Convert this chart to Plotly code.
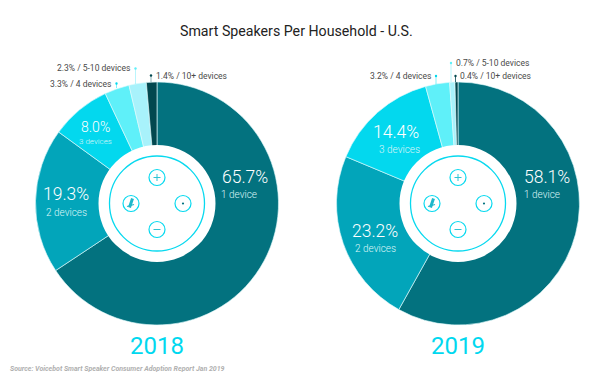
import plotly.graph_objects as go

W, H = 600, 381
categories = ["1 device", "2 devices", "3 devices", "4 devices", "5-10 devices", "10+ devices"]
values_2018 = [65.7, 19.3, 8.0, 3.3, 2.3, 1.4]
values_2019 = [58.1, 23.2, 14.4, 3.2, 0.7, 0.4]
colors = ["#03727f", "#02a5ba", "#03d8ee", "#5ff0f9", "#a8f2fb", "#02484f"]
title = "Smart Speakers Per Household - U.S."
source = "Source: Voicebot Smart Speaker Consumer Adoption Report Jan 2019"
FONT = "Roboto"
TEAL = "#07d9ef"
GREY = "#4a4a4a"
R = 121.5
CY = 203.5
centers = [(157, values_2018, "2018"), (458, values_2019, "2019")]

def px(x): return x / W
def py(y): return 1 - y / H

fig = go.Figure()
for cx, vals, yr in centers:
    fig.add_trace(go.Pie(
        labels=categories, values=vals, sort=False, direction="clockwise", rotation=0,
        hole=0.0, textinfo="none", hoverinfo="label+percent", showlegend=False,
        marker=dict(colors=colors, line=dict(color="rgba(225,250,252,0.9)", width=0.7)),
        domain=dict(x=[px(cx - R), px(cx + R)], y=[py(CY + R), py(CY - R)]),
    ))

shapes = []
def circle(cx, cy, r, fill="white", line=TEAL, width=1.2):
    shapes.append(dict(type="circle", xref="paper", yref="paper",
                       x0=px(cx - r), x1=px(cx + r), y0=py(cy + r), y1=py(cy - r),
                       fillcolor=fill, line=dict(color=line, width=width), layer="above"))
def seg(x0, y0, x1, y1, color=TEAL, width=1.0):
    shapes.append(dict(type="line", xref="paper", yref="paper",
                       x0=px(x0), x1=px(x1), y0=py(y0), y1=py(y1),
                       line=dict(color=color, width=width), layer="above"))
def dot(x, y, color, r=1.2):
    circle(x, y, r, fill=color, line=color, width=0)

for cx, _, _ in centers:
    circle(cx, CY, 58.5, line="white", width=0)
    circle(cx, CY, 47.5, width=1.3)
    circle(cx, CY - 26, 8)
    seg(cx - 3.5, CY - 26, cx + 3.5, CY - 26, "#2fc4d4"); seg(cx, CY - 29.5, cx, CY - 22.5, "#2fc4d4")
    circle(cx, CY + 26, 8)
    seg(cx - 3.5, CY + 26, cx + 3.5, CY + 26, "#2fc4d4")
    circle(cx + 26, CY, 8)
    dot(cx + 26, CY, "#03727f", 1.1)
    circle(cx - 26, CY, 8)
    seg(cx - 24.5, CY - 5, cx - 27.5, CY + 4, "#1fb8cb", 3)
    seg(cx - 30, CY + 3, cx - 23, CY + 1, "#1fb8cb", 1.2)

# leader lines for the small slices
seg(116.5, 88, 116.5, 84, "#5ff0f9", 0.8); dot(116.5, 83.5, "#03d8ee")
seg(135.5, 84, 135.5, 69, "#a8f2fb", 0.8); dot(135.5, 68.5, "#5ff0f9")
seg(151, 82, 151, 76, "#6e9ea3", 0.8); dot(151, 75.5, "#02484f")
seg(436, 86, 436, 76, "#5ff0f9", 0.8); dot(436, 76, "#03d8ee")
seg(451, 82, 451, 63, "#a8f2fb", 0.8); dot(451, 63, "#5ff0f9")
seg(455.5, 82, 455.5, 76, "#02484f", 0.8); dot(455.5, 76, "#02484f")

ann = []
def text(x, y, s, size, color, anchor="center", italic=False, weight=400, family=FONT):
    ann.append(dict(xref="paper", yref="paper", x=px(x), y=py(y), text=s, showarrow=False,
                    xanchor=anchor, yanchor="middle", align=anchor,
                    font=dict(family=family, size=size, color=color, weight=weight,
                              style="italic" if italic else "normal")))

text(296, 31, title, 14.2, "#222222")
for cx, vals, yr in centers:
    text(cx, 346, yr, 24, "#00d8ef", weight=400)

def pct(v): return f"{v:.1f}%"
BIG, SUB = 17.5, 10
# 2018 labels
text(245, 177, pct(values_2018[0]), BIG, "white", weight=300)
text(239, 194.5, categories[0], SUB, "#dff6f8", weight=300)
text(66, 194, pct(values_2018[1]), BIG, "white", weight=300)
text(66, 212, categories[1], SUB, "#dff6f8", weight=300)
text(95, 127, pct(values_2018[2]), 14, "white", weight=300)
text(95, 141, categories[2], 8, "#dff6f8", weight=300)
text(113, 83.5, f"{pct(values_2018[3])} / {categories[3]}", 8.5, GREY, "right")
text(132, 68.5, f"{pct(values_2018[4])} / {categories[4]}", 8.5, GREY, "right")
text(154, 75.5, f"{pct(values_2018[5])} / {categories[5]}", 8.5, GREY, "left")
# 2019 labels
text(547, 177, pct(values_2019[0]), BIG, "white", weight=300)
text(541.5, 194.5, categories[0], SUB, "#dff6f8", weight=300)
text(375, 231, pct(values_2019[1]), BIG, "white", weight=300)
text(375, 249, categories[1], SUB, "#dff6f8", weight=300)
text(396, 132, pct(values_2019[2]), BIG, "white", weight=300)
text(399, 149, categories[2], SUB, "#dff6f8", weight=300)
text(433, 76, f"{pct(values_2019[3])} / {categories[3]}", 8.5, GREY, "right")
text(454, 63, f"{pct(values_2019[4])} / {categories[4]}", 8.5, GREY, "left")
text(458, 76, f"{pct(values_2019[5])} / {categories[5]}", 8.5, GREY, "left")
text(8, 368.5, source, 7, "#b0b0b0", "left", italic=True, weight=700)

fig.update_layout(width=W, height=H, margin=dict(l=0, r=0, t=0, b=0), autosize=False,
                  paper_bgcolor="white", shapes=shapes, annotations=ann)
fig.write_html("out.html", config={"displayModeBar": False},
               post_script="document.body.style.margin='0';document.body.style.overflow='hidden';")
